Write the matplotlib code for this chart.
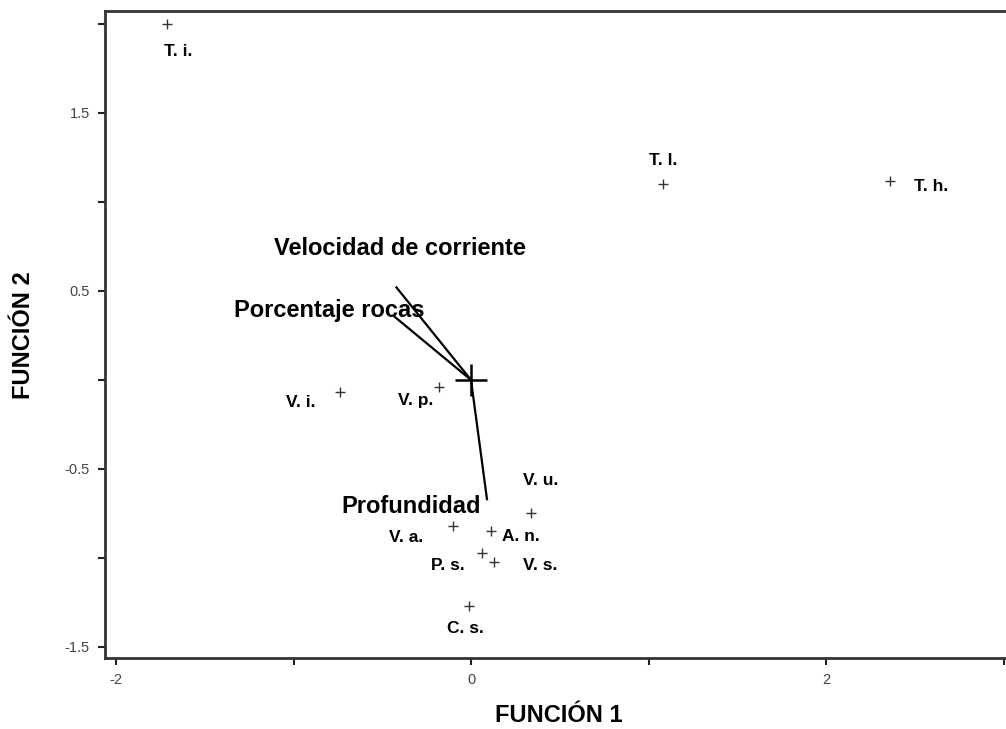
import numpy as np
import matplotlib.pyplot as plt
from matplotlib.ticker import MultipleLocator, FuncFormatter

plt.rcParams["font.family"] = ["Liberation Sans", "DejaVu Sans"]

# Species centroids on the two discriminant functions
species = ["T. i.", "T. l.", "T. h.", "V. i.", "V. p.", "V. u.",
           "V. a.", "A. n.", "P. s.", "V. s.", "C. s."]
func1 = [-1.71, 1.08, 2.36, -0.74, -0.18, 0.34, -0.10, 0.11, 0.06, 0.13, -0.01]
func2 = [2.00, 1.10, 1.12, -0.07, -0.04, -0.75, -0.82, -0.85, -0.97, -1.02, -1.27]

# label offsets in points (dx, dy) relative to each centroid
label_offsets = [(8, -20), (0, 17), (30, -4), (-28, -7), (-17, -10), (7, 24),
                 (-34, -8), (22, -4), (-24, -9), (33, -3), (-3, -16)]

# Environmental variable vectors
variables = ["Velocidad de corriente", "Porcentaje rocas", "Profundidad"]
var_x = [-0.42, -0.43, 0.09]
var_y = [0.52, 0.355, -0.67]
var_text_pos = [(-0.40, 0.74), (-0.80, 0.39), (-0.34, -0.71)]

fig = plt.figure(figsize=(10.06, 7.29), dpi=100)
ax = fig.add_axes([105 / 1006, 71 / 729, 901 / 1006, 647 / 729])
ax.set_xlim(-2.062, 3.014)
ax.set_ylim(-1.562, 2.073)

ax.plot(func1, func2, "+", color="#333333", markersize=7, markeredgewidth=1.0)
for name, x, y, (dx, dy) in zip(species, func1, func2, label_offsets):
    ax.annotate(name, (x, y), xytext=(dx, dy), textcoords="offset points",
                ha="center", va="center", fontsize=12.5, fontweight="bold")

for vx, vy in zip(var_x, var_y):
    ax.plot([0, vx], [0, vy], color="black", linewidth=1.6)
for name, (tx, ty) in zip(variables, var_text_pos):
    ax.text(tx, ty, name, ha="center", va="center", fontsize=17,
            fontweight="bold")
ax.plot([0], [0], "+", color="black", markersize=23, markeredgewidth=1.8)

ax.xaxis.set_major_locator(MultipleLocator(1))
ax.yaxis.set_major_locator(MultipleLocator(0.5))
ax.xaxis.set_major_formatter(
    FuncFormatter(lambda v, p: f"{v:g}" if round(v) % 2 == 0 else ""))
ax.yaxis.set_major_formatter(
    FuncFormatter(lambda v, p: f"{v:g}" if abs(round(v * 2)) % 2 == 1 else ""))
ax.tick_params(direction="out", length=5, width=1.5, color="#222222",
               labelsize=10.5, labelcolor="#444444", pad=6)

for side in ["left", "bottom", "top"]:
    ax.spines[side].set_linewidth(2)
    ax.spines[side].set_color("#333333")
ax.spines["right"].set_visible(False)

ax.set_xlabel("FUNCIÓN 1", fontsize=17, fontweight="bold")
ax.set_ylabel("FUNCIÓN 2", fontsize=17, fontweight="bold")
ax.xaxis.set_label_coords((559 - 105) / 901, (658 - 716) / 647)
ax.yaxis.set_label_coords((24 - 105) / 901, (658 - 335) / 647)
ax.xaxis.label.set_va("center")
ax.yaxis.label.set_va("center")

fig.savefig("out.png", dpi=100)
